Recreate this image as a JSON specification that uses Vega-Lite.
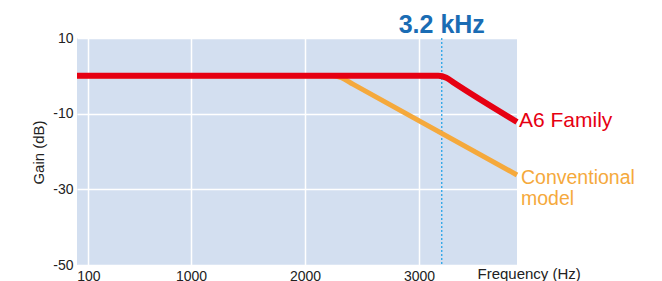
{
  "$schema": "https://vega.github.io/schema/vega-lite/v6.json",
  "autosize": {"type": "none"},
  "padding": {"left": 77, "top": 38, "right": 145, "bottom": 16},
  "width": 440,
  "height": 227,
  "background": "white",
  "config": {
    "view": {"stroke": null, "fill": "#d3dff0"},
    "font": "Liberation Sans"
  },
  "datasets": {
    "curves": [
      {"freq": 0, "gain": 0, "series": "Conventional model"},
      {"freq": 2240, "gain": 0, "series": "Conventional model"},
      {"freq": 2320, "gain": -0.5, "series": "Conventional model"},
      {"freq": 2420, "gain": -2.2, "series": "Conventional model"},
      {"freq": 3860, "gain": -26.2, "series": "Conventional model"},
      {"freq": 0, "gain": 0, "series": "A6 Family"},
      {"freq": 3170, "gain": 0, "series": "A6 Family"},
      {"freq": 3240, "gain": -0.5, "series": "A6 Family"},
      {"freq": 3310, "gain": -1.9, "series": "A6 Family"},
      {"freq": 3860, "gain": -12.2, "series": "A6 Family"}
    ],
    "marker": [{"freq": 3200, "gain": 10, "label": "3.2 kHz"}]
  },
  "encoding": {
    "x": {
      "field": "freq", "type": "quantitative",
      "scale": {"domain": [0, 3860], "nice": false, "zero": false},
      "axis": {
        "values": [100, 1000, 2000, 3000],
        "format": "d",
        "title": "Frequency (Hz)",
        "titleX": 400, "titleY": 13, "titleAlign": "left", "titleBaseline": "alphabetic",
        "titleFont": "Liberation Sans", "titleFontSize": 15, "titleFontWeight": "normal", "titleColor": "#222",
        "labelFontSize": 14, "labelColor": "#222", "labelPadding": 4, "labelBaseline": "top",
        "domain": false, "ticks": false,
        "grid": true, "gridColor": "white", "gridWidth": 1.5, "gridOpacity": 1
      }
    },
    "y": {
      "field": "gain", "type": "quantitative",
      "scale": {"domain": [-50, 10], "nice": false, "zero": false},
      "axis": {
        "values": [10, -10, -30, -50],
        "labelExpr": "replace(datum.label, '\u2212', '-')",
        "title": "Gain (dB)",
        "titleX": -39, "titleY": 114, "titleAlign": "center", "titleBaseline": "middle", "titleAngle": -90,
        "titleFontSize": 15, "titleFontWeight": "normal", "titleColor": "#222",
        "labelFontSize": 14, "labelColor": "#222", "labelPadding": 4,
        "domain": false, "ticks": false,
        "grid": true, "gridColor": "white", "gridWidth": 1.5, "gridOpacity": 1
      }
    }
  },
  "layer": [
    {
      "data": {"name": "marker"},
      "mark": {"type": "rule", "color": "#1a9fe6", "strokeDash": [2, 2], "strokeWidth": 1.2},
      "encoding": {"x": {"field": "freq", "type": "quantitative"}, "y": null}
    },
    {
      "data": {"name": "marker"},
      "mark": {"type": "text", "color": "#1a6cb4", "fontSize": 25, "fontWeight": "bold", "align": "center", "baseline": "alphabetic", "dy": -5},
      "encoding": {"text": {"field": "label"}}
    },
    {
      "data": {"name": "curves"},
      "transform": [{"filter": "datum.series === 'Conventional model'"}],
      "mark": {"type": "line", "color": "#f5a93c", "strokeWidth": 5, "interpolate": "monotone", "strokeCap": "butt"}
    },
    {
      "data": {"name": "curves"},
      "transform": [{"filter": "datum.series === 'A6 Family'"}],
      "mark": {"type": "line", "color": "#e60012", "strokeWidth": 6, "interpolate": "monotone", "strokeCap": "butt"}
    },
    {
      "data": {"name": "curves"},
      "transform": [{"filter": "datum.series === 'A6 Family' && datum.freq === 3860"}],
      "mark": {"type": "text", "color": "#e60012", "fontSize": 21, "align": "left", "baseline": "alphabetic", "dx": 2, "dy": 5},
      "encoding": {"text": {"field": "series"}}
    },
    {
      "data": {"name": "curves"},
      "transform": [{"filter": "datum.series === 'Conventional model' && datum.freq === 3860"}],
      "mark": {"type": "text", "color": "#f5a93c", "fontSize": 19.5, "align": "left", "baseline": "alphabetic", "dx": 4, "dy": 9, "lineBreak": " ", "lineHeight": 21},
      "encoding": {"text": {"field": "series"}}
    }
  ]
}
